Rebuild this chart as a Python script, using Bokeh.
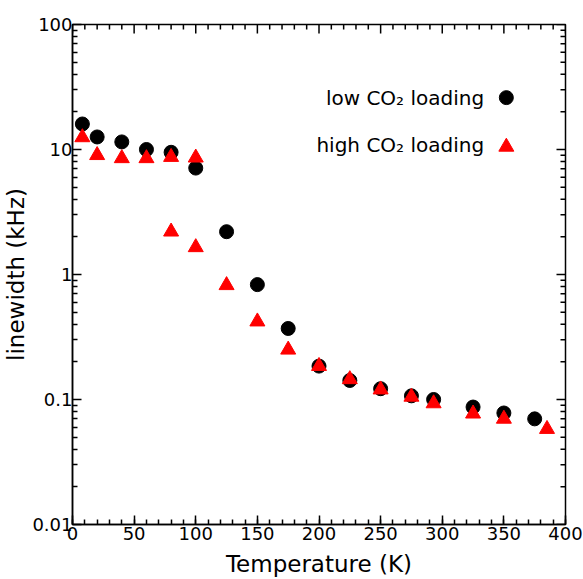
import math
from bokeh.plotting import figure
from bokeh.models import Range1d, SingleIntervalTicker, FixedTicker, Label
from bokeh.embed import file_html
from bokeh.resources import INLINE

# Data
low_T = [8, 20, 40, 60, 80, 100, 125, 150, 175, 200, 225, 250, 275, 293, 325, 350, 375]
low_w = [16, 12.6, 11.5, 10.0, 9.5, 7.1, 2.2, 0.83, 0.37, 0.185, 0.142, 0.122, 0.107, 0.100, 0.087, 0.078, 0.070]
high_T = [8, 20, 40, 60, 80, 100, 80, 100, 125, 150, 175, 200, 225, 250, 275, 293, 325, 350, 385]
high_w = [12.5, 9.0, 8.5, 8.5, 8.7, 8.6, 2.2, 1.65, 0.82, 0.42, 0.25, 0.185, 0.145, 0.120, 0.105, 0.093, 0.077, 0.070, 0.058]
x_major = [0, 50, 100, 150, 200, 250, 300, 350, 400]
y_ticks = [0.01, 0.1, 1, 10, 100]
y_tick_labels = ["0.01", "0.1", "1", "10", "100"]
legend_labels = ["low CO\u2082 loading", "high CO\u2082 loading"]

FONT = "DejaVu Sans"

x_minor = [a + k * 10 for a in x_major[:-1] for k in range(1, 5)]
y_minor = [m * d for d in y_ticks[:-1] for m in range(2, 10)]

p = figure(width=583, height=579, y_axis_type="log",
           x_range=Range1d(0, 400), y_range=Range1d(0.01, 100),
           output_backend="svg", toolbar_location=None,
           min_border_left=5, min_border_right=18, min_border_top=24, min_border_bottom=5)

p.grid.visible = False
p.outline_line_color = "black"
p.outline_line_width = 1.5
p.background_fill_color = "white"
p.border_fill_color = "white"

xa = p.xaxis[0]
xa.ticker = SingleIntervalTicker(interval=50, num_minor_ticks=5)
xa.axis_label = "Temperature (K)"
ya = p.yaxis[0]
ya.ticker = FixedTicker(ticks=y_ticks, minor_ticks=y_minor)
ya.major_label_overrides = {t: l for t, l in zip(y_ticks, y_tick_labels)}
ya.axis_label = "linewidth (kHz)"

for ax in (xa, ya):
    ax.major_tick_in = 9
    ax.major_tick_out = 0
    ax.minor_tick_in = 5
    ax.minor_tick_out = 0
    ax.axis_line_width = 1.5
    ax.major_tick_line_width = 1.5
    ax.minor_tick_line_width = 1.5
    ax.major_label_text_font = FONT
    ax.major_label_text_font_size = "18px"
    ax.major_label_text_color = "black"
    ax.axis_label_text_font = FONT
    ax.axis_label_text_font_size = "23px"
    ax.axis_label_text_font_style = "normal"
    ax.axis_label_text_color = "black"

xa.major_label_standoff = 2
xa.axis_label_standoff = 8
ya.major_label_standoff = 0
ya.axis_label_standoff = 0

# mirrored inward ticks on top and right edges (dash markers clipped by the frame)
p.scatter(x_major, [100] * len(x_major), marker="dash", angle=math.pi / 2, size=18,
          line_color="black", line_width=1.5)
p.scatter(x_minor, [100] * len(x_minor), marker="dash", angle=math.pi / 2, size=10,
          line_color="black", line_width=1.5)
p.scatter([400] * len(y_ticks), y_ticks, marker="dash", size=18, line_color="black", line_width=1.5)
p.scatter([400] * len(y_minor), y_minor, marker="dash", size=10, line_color="black", line_width=1.5)

# data
p.scatter(low_T, low_w, marker="circle", size=14, fill_color="black", line_color="black")
p.scatter(high_T, high_w, marker="triangle", size=15, fill_color="red", line_color="red")

# legend (markers to the right of the text)
p.scatter([352], [26], marker="circle", size=14, fill_color="black", line_color="black")
p.scatter([352], [10.5], marker="triangle", size=15, fill_color="red", line_color="red")
p.add_layout(Label(x=334, y=26, text=legend_labels[0], text_align="right", text_baseline="middle",
                   text_font=FONT, text_font_size="20px", text_color="black"))
p.add_layout(Label(x=334, y=10.9, text=legend_labels[1], text_align="right", text_baseline="middle",
                   text_font=FONT, text_font_size="20px", text_color="black"))

open("out.html", "w").write(file_html(p, INLINE))
